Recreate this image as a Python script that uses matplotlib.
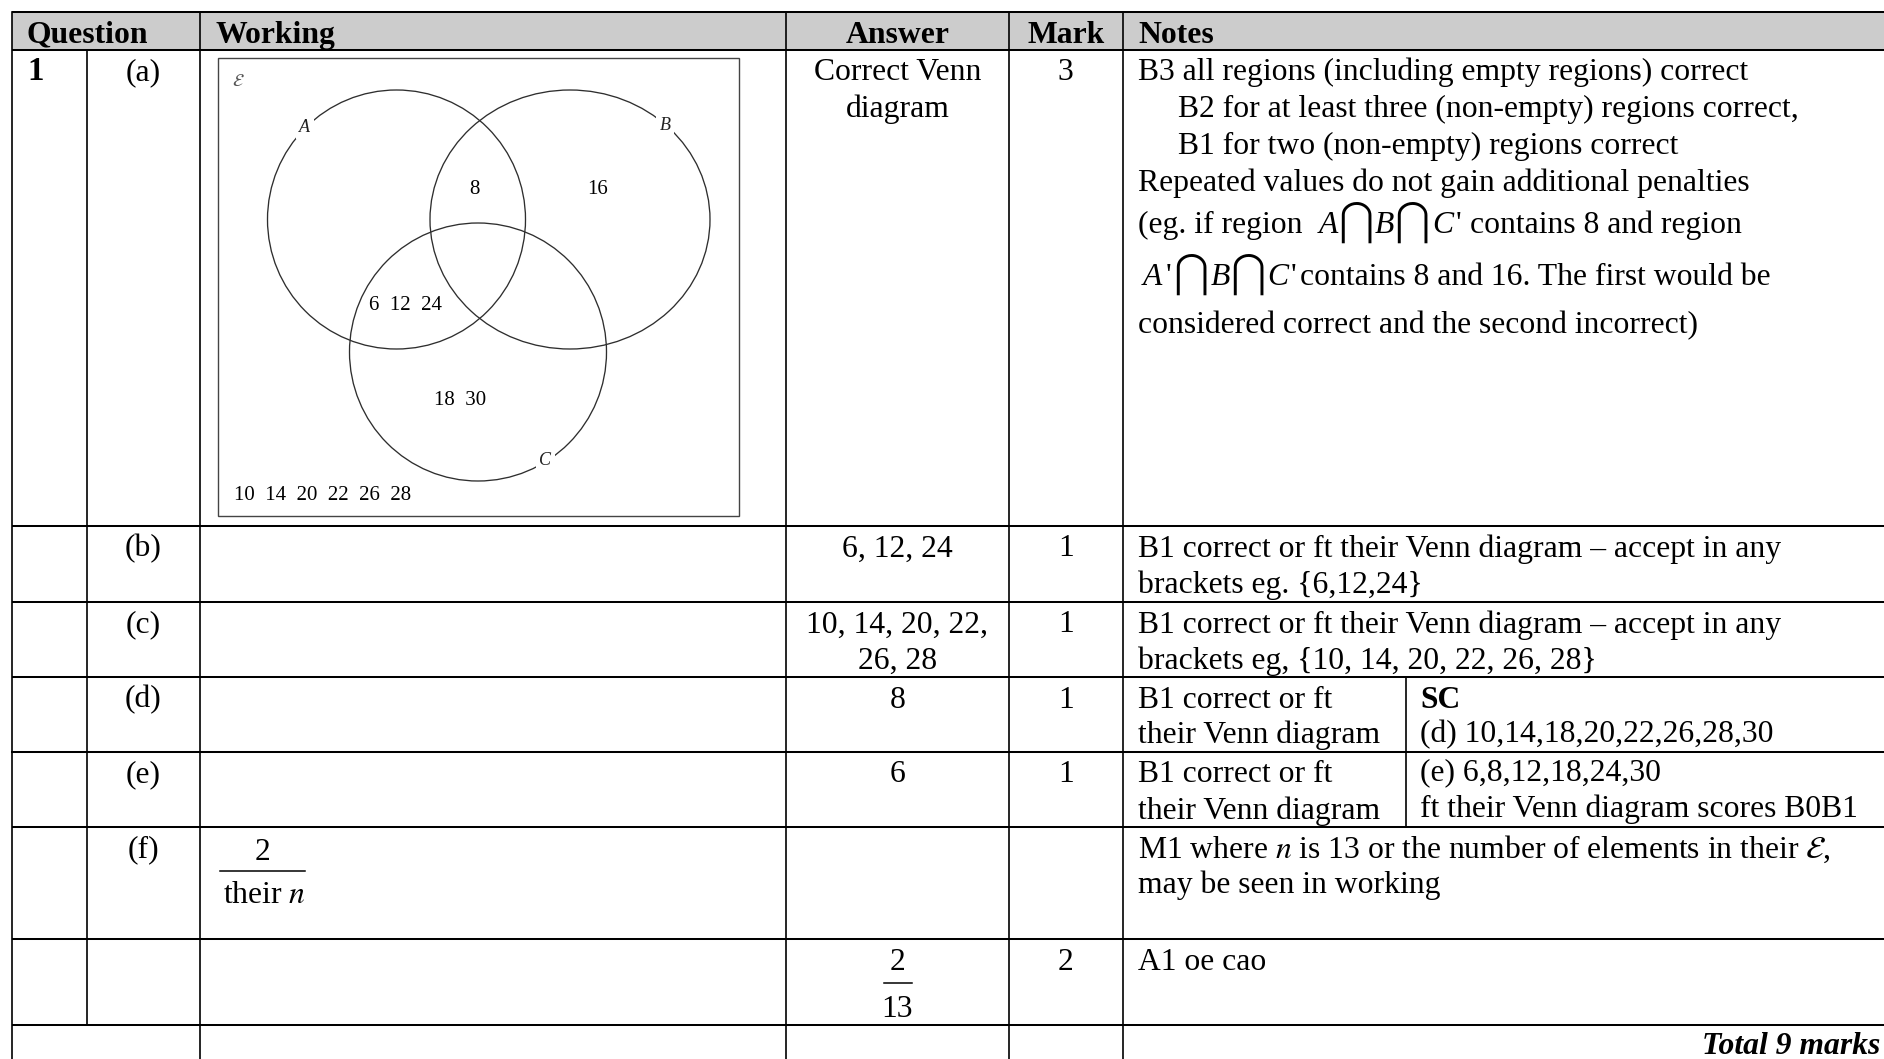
import matplotlib
matplotlib.use('Agg')
import matplotlib.pyplot as plt
from matplotlib.patches import Ellipse, Rectangle

plt.rcParams['font.family'] = ['Liberation Serif', 'DejaVu Serif']
plt.rcParams['mathtext.fontset'] = 'stix'

# ---- table content -------------------------------------------------------
HEADERS = ['Question', 'Working', 'Answer', 'Mark', 'Notes']
QUESTION_NO = '1'
PARTS = ['(a)', '(b)', '(c)', '(d)', '(e)', '(f)', '']
ANSWERS = [['Correct Venn', 'diagram'], ['6, 12, 24'], ['10, 14, 20, 22,', '26, 28'],
           ['8'], ['6'], [], []]
ANSWER_FRACTION = ['2', '13']
WORKING_FRACTION = ['2', r'their $n$']
MARKS = ['3', '1', '1', '1', '1', '', '2']

NOTES_A = ['B3 all regions (including empty regions) correct',
           'B2 for at least three (non-empty) regions correct,',
           'B1 for two (non-empty) regions correct',
           'Repeated values do not gain additional penalties']
NOTES_A_SETS = [('(eg. if region', [('A', ''), ('B', ''), ('C', "'")], 'contains 8 and region'),
                ('', [('A', "'"), ('B', ''), ('C', "'")], 'contains 8 and 16. The first would be')]
NOTES_A_LAST = 'considered correct and the second incorrect)'
NOTES = [None,
         ['B1 correct or ft their Venn diagram \u2013 accept in any', 'brackets eg. {6,12,24}'],
         ['B1 correct or ft their Venn diagram \u2013 accept in any', 'brackets eg, {10, 14, 20, 22, 26, 28}'],
         ['B1 correct or ft', 'their Venn diagram'],
         ['B1 correct or ft', 'their Venn diagram'],
         [r'M1 where $n$ is 13 or the number of elements in their $\mathcal{E}$,', 'may be seen in working'],
         ['A1 oe cao']]
SC_TITLE = 'SC'
SC_LINES = ['(d) 10,14,18,20,22,26,28,30', '(e) 6,8,12,18,24,30', 'ft their Venn diagram scores B0B1']
TOTAL = 'Total 9 marks'

# ---- Venn diagram content ------------------------------------------------
VENN_SETS = ['A', 'B', 'C']
VENN_AB = ['8']
VENN_B_ONLY = ['16']
VENN_AC = ['6', '12', '24']
VENN_C_ONLY = ['18', '30']
VENN_OUTSIDE = ['10', '14', '20', '22', '26', '28']

# ---- layout (pixels) -----------------------------------------------------
W, H = 1884, 1059
COL_X = [12, 87, 200, 786, 1009, 1122.5, W]
ROW_Y = [12, 50, 526, 602, 677, 752, 827, 939, 1025]
SPLIT_X = 1406
FS = 22.8
LINE = 36
FIRST = 30.5

fig = plt.figure(figsize=(W / 100, H / 100), dpi=100)
ax = fig.add_axes([0, 0, 1, 1])
ax.set_xlim(0, W)
ax.set_ylim(H, 0)
ax.axis('off')
renderer = fig.canvas.get_renderer()

# header band
ax.add_patch(Rectangle((COL_X[0], ROW_Y[0]), W - COL_X[0], ROW_Y[1] - ROW_Y[0],
                       facecolor='#cccccc', edgecolor='none', zorder=0))

# grid lines
HLW, VLW = 1.45, 1.2
for y in ROW_Y:
  ax.plot([COL_X[0], W], [y, y], color='black', lw=HLW, solid_capstyle='butt')
ax.plot([COL_X[0], SPLIT_X], [ROW_Y[5], ROW_Y[5]], color='black', lw=HLW)
for x in [COL_X[0], COL_X[2], COL_X[3], COL_X[4], COL_X[5]]:
  ax.plot([x, x], [ROW_Y[0], H], color='black', lw=VLW)
ax.plot([COL_X[1], COL_X[1]], [ROW_Y[1], ROW_Y[-1]], color='black', lw=VLW)
ax.plot([SPLIT_X, SPLIT_X], [ROW_Y[4], ROW_Y[6]], color='black', lw=VLW)

# header text
hy = 42.7
ax.text(26.7, hy, HEADERS[0], fontsize=FS, weight='bold', va='baseline')
ax.text(215, hy, HEADERS[1], fontsize=FS, weight='bold', va='baseline')
ax.text((COL_X[3] + COL_X[4]) / 2, hy, HEADERS[2], fontsize=FS, weight='bold', va='baseline', ha='center')
ax.text((COL_X[4] + COL_X[5]) / 2, hy, HEADERS[3], fontsize=FS, weight='bold', va='baseline', ha='center')
ax.text(1138, hy, HEADERS[4], fontsize=FS, weight='bold', va='baseline')

ax.text(27, ROW_Y[1] + FIRST, QUESTION_NO, fontsize=FS + 1, weight='bold', va='baseline')

ans_x = (COL_X[3] + COL_X[4]) / 2
mark_x = (COL_X[4] + COL_X[5]) / 2
part_x = (COL_X[1] + COL_X[2]) / 2
note_x = 1138
for i, top in enumerate(ROW_Y[1:-1]):
  base = top + FIRST
  ax.text(part_x, base, PARTS[i], fontsize=FS, va='baseline', ha='center')
  for k, s in enumerate(ANSWERS[i]):
    ax.text(ans_x, base + k * (LINE + (1 if i == 0 else 0)), s, fontsize=FS, va='baseline', ha='center')
  ax.text(mark_x, base, MARKS[i], fontsize=FS, va='baseline', ha='center')
  if NOTES[i] is not None:
    for k, s in enumerate(NOTES[i]):
      ax.text(note_x, base + k * LINE, s, fontsize=FS, va='baseline')

# special cases block spanning (d) and (e)
sc_base = ROW_Y[4] + FIRST
ax.text(1420.5, sc_base, SC_TITLE, fontsize=FS, weight='bold', va='baseline')
for s, b in zip(SC_LINES, [sc_base + 35, sc_base + 73, sc_base + 109]):
  ax.text(1420.5, b, s, fontsize=FS, va='baseline')

# notes for (a)
a_base = [80, 117, 154, 191]
indent = [0, 40, 40, 0]
for s, b, dx in zip(NOTES_A, a_base, indent):
  ax.text(note_x + dx, b, s, fontsize=FS, va='baseline')

ROMAN = dict(fontsize=FS)
ITAL = dict(fontsize=FS, style='italic')
CAP = dict(fontsize=29, family='STIXGeneral')


def draw_runs(x, y, runs):
  for text, gap, style in runs:
    t = ax.text(x, y, text, ha='left', va='baseline', **style)
    x = t.get_window_extent(renderer).x1 + gap


for (prefix, sets, suffix), b, x0 in zip(NOTES_A_SETS, [233, 285], [note_x, 1143]):
  runs = []
  if prefix:
    runs.append((prefix, 16, ROMAN))
  for j, (name, prime) in enumerate(sets):
    last = j == len(sets) - 1
    if prime:
      runs.append((name, 3, ITAL))
      runs.append((prime, 8 if (last and prefix) else (3 if last else 1), ROMAN))
    else:
      runs.append((name, -1, ITAL))
    if not last:
      runs.append(('\u22c2', 1, CAP))
  runs.append((suffix, 0, ROMAN))
  draw_runs(x0, b, runs)
ax.text(note_x, 333, NOTES_A_LAST, fontsize=FS, va='baseline')

# working fraction in (f)
wx = 262
ax.text(wx, 860, WORKING_FRACTION[0], fontsize=FS, ha='center', va='baseline')
ax.plot([220, 305], [871, 871], color='black', lw=1.1)
ax.text(223, 903, WORKING_FRACTION[1], fontsize=FS, va='baseline')

# answer fraction in last row
ax.text(ans_x, 970, ANSWER_FRACTION[0], fontsize=FS, ha='center', va='baseline')
ax.plot([ans_x - 14, ans_x + 14], [983, 983], color='black', lw=1.1)
ax.text(ans_x, 1017, ANSWER_FRACTION[1], fontsize=FS, ha='center', va='baseline')

ax.text(1880, 1054, TOTAL, fontsize=FS, weight='bold', style='italic', ha='right', va='baseline')

# ---- Venn diagram --------------------------------------------------------
ax.add_patch(Rectangle((218, 58), 521, 458, facecolor='none', edgecolor='#444444', lw=1.0))
ellipses = [((396.5, 219.5), 258, 259), ((570, 219.5), 280, 259), ((478, 352), 257, 258)]
for (c, w, h) in ellipses:
  ax.add_patch(Ellipse(c, w, h, facecolor='none', edgecolor='#2e2e2e', lw=0.95))

label_pos = [(304.7, 127), (665.3, 126), (545.3, 460.3)]
for name, (x, y) in zip(VENN_SETS, label_pos):
  ax.text(x, y, name, fontsize=13, style='italic', ha='center', va='center', color='#222222',
          bbox=dict(facecolor='white', edgecolor='none', pad=2.5))
ax.text(238.7, 82, r'$\mathcal{E}$', fontsize=13, ha='center', va='center', color='#555555')

VFS = 15
gap = '  '
ax.text(474.3, 193.7, gap.join(VENN_AB), fontsize=VFS, ha='center', va='baseline')
ax.text(598, 193.7, gap.join(VENN_B_ONLY), fontsize=VFS, ha='center', va='baseline')
ax.text(405.3, 310, gap.join(VENN_AC), fontsize=VFS, ha='center', va='baseline')
ax.text(460.5, 404.7, gap.join(VENN_C_ONLY), fontsize=VFS, ha='center', va='baseline')
ax.text(233.7, 500.3, gap.join(VENN_OUTSIDE), fontsize=VFS, ha='left', va='baseline')

fig.savefig('out.png', dpi=100)
